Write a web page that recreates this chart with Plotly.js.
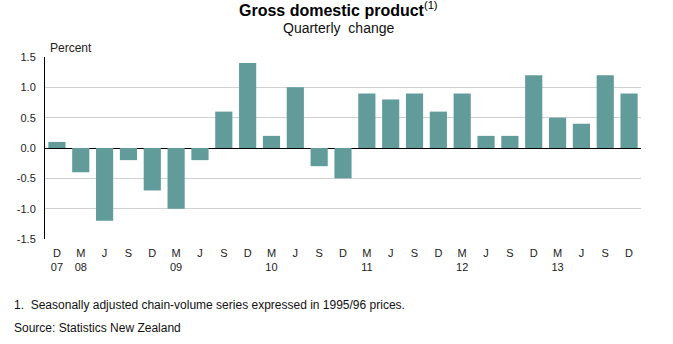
<!DOCTYPE html>
<html><head><meta charset="utf-8">
<script src="https://cdn.plot.ly/plotly-3.0.1.min.js"></script>
<style>body{margin:0;background:#fff}#c{width:673px;height:344px}</style>
</head><body><div id="c"></div>
<script>
const quarters = ["D07","M08","J08","S08","D08","M09","J09","S09","D09","M10","J10","S10","D10","M11","J11","S11","D11","M12","J12","S12","D12","M13","J13","S13","D13"];
const tickLabels = ["D<br>07","M<br>08","J","S","D","M<br>09","J","S","D","M<br>10","J","S","D","M<br>11","J","S","D","M<br>12","J","S","D","M<br>13","J","S","D"];
const gdpChange = [0.1,-0.4,-1.2,-0.2,-0.7,-1.0,-0.2,0.6,1.4,0.2,1.0,-0.3,-0.5,0.9,0.8,0.9,0.6,0.9,0.2,0.2,1.2,0.5,0.4,1.2,0.9];
const yTicks = [-1.5,-1.0,-0.5,0.0,0.5,1.0,1.5];

const reg = "Liberation Sans, Arial, sans-serif";

Plotly.newPlot("c", [{
  type: "bar", x: quarters, y: gdpChange,
  marker: {color: "#619c9a"}, hoverinfo: "skip"
}], {
  width: 673, height: 344,
  margin: {l: 45, r: 32, t: 57, b: 105},
  paper_bgcolor: "#fff", plot_bgcolor: "#fff",
  bargap: 0.28, showlegend: false,
  font: {family: reg, size: 11, color: "#222"},
  xaxis: {
    type: "category", tickvals: quarters, ticktext: tickLabels,
    showgrid: false, zeroline: false, showline: false, ticks: "",
    ticklabelstandoff: 6,
    tickfont: {family: reg, size: 11, color: "#222"}
  },
  yaxis: {
    range: [-1.5, 1.5], tickvals: yTicks,
    ticktext: yTicks.map(v => v.toFixed(1)),
    showgrid: true, gridcolor: "#d0d0d0", gridwidth: 1,
    zeroline: true, zerolinecolor: "#000", zerolinewidth: 1,
    showline: true, linecolor: "#000", linewidth: 1,
    ticks: "", ticklabelstandoff: 6,
    tickfont: {family: reg, size: 11, color: "#222"}
  },
  annotations: [
    {text: "<b>Gross domestic product</b><sup>(1)</sup>", xref: "paper", yref: "paper", x: 0.493, y: 1, yshift: 60, xanchor: "center", yanchor: "top", showarrow: false, font: {family: reg, size: 16, color: "#000"}},
    {text: "Quarterly  change", xref: "paper", yref: "paper", x: 0.493, y: 1, yshift: 39, xanchor: "center", yanchor: "top", showarrow: false, font: {family: reg, size: 14, color: "#111"}},
    {text: "Percent", xref: "paper", yref: "paper", x: 0, xshift: 3, y: 1, yshift: 18, xanchor: "left", yanchor: "top", showarrow: false, font: {family: reg, size: 12, color: "#222"}},
    {text: "1.  Seasonally adjusted chain-volume series expressed in 1995/96 prices.", xref: "paper", yref: "paper", x: 0, xshift: -33, y: 0, yshift: -57, xanchor: "left", yanchor: "top", showarrow: false, font: {family: reg, size: 12, color: "#111"}},
    {text: "Source: Statistics New Zealand", xref: "paper", yref: "paper", x: 0, xshift: -33, y: 0, yshift: -80, xanchor: "left", yanchor: "top", showarrow: false, font: {family: reg, size: 12, color: "#111"}}
  ]
}, {staticPlot: true});
</script></body></html>
